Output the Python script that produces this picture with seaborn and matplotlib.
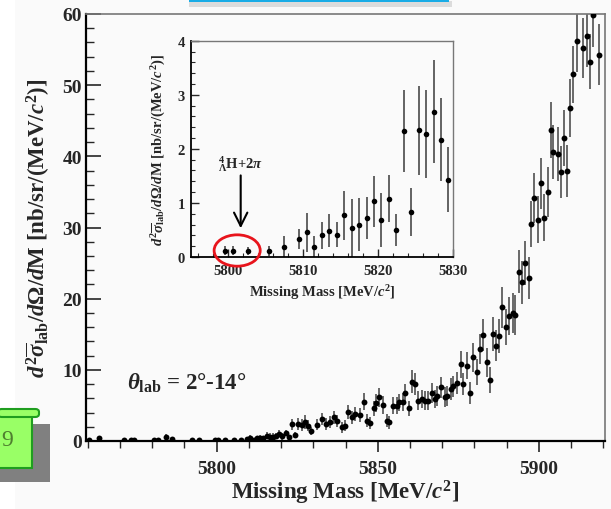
import numpy as np
import pandas as pd
import matplotlib
matplotlib.use("Agg")
import matplotlib.pyplot as plt
import seaborn as sns
from matplotlib.patches import Ellipse, Rectangle, FancyBboxPatch
from matplotlib.ticker import MultipleLocator

# ---------------- data ----------------
# low-mass region (main plot only)
low_mass = [5760.3, 5763.4, 5771.3, 5773.4, 5774.4, 5780.6, 5781.7, 5784.3, 5786.1, 5792.5, 5794.6]
low_xs = [0.10, 0.40, 0.20, 0.20, 0.15, 0.20, 0.15, 0.55, 0.30, 0.15, 0.15]
low_err = [0.10, 0.20, 0.15, 0.15, 0.15, 0.15, 0.15, 0.40, 0.20, 0.15, 0.15]

# threshold region (shown in inset and main plot)
ins_mass = [5799.6, 5800.6, 5802.6, 5805.5, 5807.5, 5809.5, 5810.5, 5811.5, 5812.5, 5813.5,
            5814.5, 5815.5, 5816.5, 5817.5, 5818.5, 5819.4, 5820.4, 5821.4, 5822.4, 5823.4,
            5824.4, 5825.4, 5826.4, 5827.4, 5828.4, 5829.3]
ins_xs = [0.12, 0.12, 0.11, 0.11, 0.18, 0.33, 0.46, 0.19, 0.40, 0.49,
          0.41, 0.77, 0.54, 0.60, 0.72, 1.03, 0.68, 1.08, 0.50, 2.33,
          0.83, 2.34, 2.28, 2.69, 2.17, 1.43]
ins_err = [0.08, 0.09, 0.08, 0.09, 0.20, 0.19, 0.36, 0.19, 0.25, 0.31,
           0.23, 0.45, 0.54, 0.49, 0.39, 0.47, 0.50, 0.44, 0.29, 0.76,
           0.44, 0.83, 0.81, 0.96, 0.77, 0.60]

# higher-mass region (main plot only)
high_mass = [5831.1, 5832.6, 5833.9, 5835.2, 5836.4, 5837.5, 5838.8, 5839.8, 5840.9, 5841.9,
             5842.9, 5844.5, 5845.7, 5846.6, 5847.6, 5848.9, 5849.5, 5850.5, 5851.6, 5852.8,
             5853.6, 5854.7, 5855.9, 5856.7, 5857.8, 5858.6, 5859.6, 5860.6, 5861.6, 5862.6,
             5863.7, 5864.7, 5865.7, 5866.8, 5867.8, 5868.5, 5869.6, 5870.9, 5871.6, 5872.7,
             5873.5, 5874.5, 5875.8, 5876.6, 5877.6, 5878.7, 5879.7, 5880.7, 5881.8, 5882.6,
             5883.9, 5884.7, 5885.7, 5886.7, 5887.7, 5888.5, 5889.8, 5890.6, 5891.9, 5892.6,
             5893.7, 5894.7, 5895.7, 5896.8, 5897.6, 5898.6, 5899.7, 5900.7, 5901.7, 5902.8,
             5903.7, 5904.5, 5905.8, 5906.7, 5907.8, 5908.8, 5909.7, 5910.7, 5911.8, 5913.8,
             5914.8, 5915.7, 5916.8, 5918.7]
high_xs = [2.29, 3.09, 2.39, 2.62, 3.32, 2.86, 1.92, 2.15, 4.12, 3.32,
           3.79, 3.70, 5.52, 2.86, 2.53, 4.59, 5.34, 6.13, 5.06, 2.86,
           2.62, 4.96, 4.96, 5.43, 5.43, 6.74, 4.59, 8.33, 8.00, 5.66,
           5.90, 5.66, 5.66, 6.74, 5.90, 6.36, 7.54, 6.13, 6.36, 7.30,
           7.68, 8.15, 10.80, 8.00, 10.58, 6.74, 11.75, 9.73, 12.92, 14.89,
           11.05, 8.61, 15.03, 13.39, 14.70, 18.78, 16.05, 17.60, 17.93, 17.74,
           23.80, 22.30, 25.00, 22.90, 30.48, 34.20, 31.10, 36.20, 31.40, 35.00,
           43.70, 40.60, 40.30, 37.80, 42.60, 37.96, 46.80, 51.50, 56.20, 55.20,
           56.90, 53.30, 59.80, 54.30]
high_err = [0.80, 0.90, 0.80, 0.85, 0.90, 0.85, 0.75, 0.80, 1.00, 0.95,
            1.00, 1.00, 1.20, 0.90, 0.90, 1.10, 1.20, 1.30, 1.20, 0.90,
            0.90, 1.20, 1.20, 1.20, 1.25, 1.30, 1.10, 1.60, 1.50, 1.30,
            1.30, 1.30, 1.30, 1.40, 1.30, 1.40, 1.50, 1.40, 1.40, 1.50,
            1.50, 1.60, 1.90, 1.60, 1.90, 1.50, 2.00, 1.80, 2.10, 2.30,
            2.00, 1.80, 2.40, 2.20, 2.40, 2.90, 2.50, 2.70, 2.80, 2.80,
            3.00, 3.00, 3.10, 3.00, 3.20, 3.50, 3.30, 3.60, 3.30, 3.50,
            3.90, 3.80, 3.80, 3.70, 3.90, 3.70, 4.10, 4.00, 4.30, 4.20,
            4.30, 3.90, 4.40, 4.30]

main_df = pd.DataFrame({
    "mass": low_mass + ins_mass + high_mass,
    "xs": low_xs + ins_xs + high_xs,
    "err": low_err + ins_err + high_err,
})
ins_df = pd.DataFrame({"mass": ins_mass, "xs": ins_xs, "err": ins_err})

# ---------------- style ----------------
sns.set_style("ticks")
plt.rcParams["font.family"] = ["Liberation Serif", "DejaVu Serif"]
plt.rcParams["font.weight"] = "bold"
plt.rcParams["mathtext.fontset"] = "custom"
plt.rcParams["mathtext.rm"] = "Liberation Serif:bold"
plt.rcParams["mathtext.it"] = "Liberation Serif:italic:bold"
plt.rcParams["mathtext.bf"] = "Liberation Serif:bold"

W, H = 611, 510
BG = "#fafafa"
fig = plt.figure(figsize=(W / 100, H / 100), dpi=100, facecolor=BG)


def rect_px(x0, y0, x1, y1):
    return (x0 / W, 1 - y1 / H), (x1 - x0) / W, (y1 - y0) / H


# ---------------- main axes ----------------
ax = fig.add_axes([86 / W, 1 - 442 / H, 519 / W, 427 / H])
ax.set_facecolor("none")
ax.errorbar(main_df["mass"], main_df["xs"], yerr=main_df["err"], fmt="none",
            ecolor="#505050", elinewidth=1.2, capsize=0, zorder=2)
sns.scatterplot(data=main_df, x="mass", y="xs", ax=ax, color="black", s=18,
                linewidth=0, zorder=3, legend=False)
ax.set_xlim(5759.5, 5920.5)
ax.set_ylim(0, 60)
ax.xaxis.set_major_locator(MultipleLocator(50))
ax.xaxis.set_minor_locator(MultipleLocator(10))
ax.yaxis.set_major_locator(MultipleLocator(10))
ax.yaxis.set_minor_locator(MultipleLocator(2))
ax.tick_params(axis="x", which="major", direction="out", length=8, width=1.2, pad=6, labelsize=14)
ax.tick_params(axis="x", which="minor", direction="out", length=5, width=1.0)
ax.tick_params(axis="y", which="major", direction="in", length=11, width=1.2, pad=3, labelsize=14)
ax.tick_params(axis="y", which="minor", direction="in", length=6, width=1.0)
for s in ["left", "bottom"]:
    ax.spines[s].set_color("black")
    ax.spines[s].set_linewidth(1.6)
for s in ["top", "right"]:
    ax.spines[s].set_color("#777777")
    ax.spines[s].set_linewidth(1.2)
ax.set_xlabel("Missing Mass [MeV/$c^2$]", fontsize=16.5, fontweight="bold")
ax.set_ylabel(r"$d^2\overline{\sigma}_{\rm lab}/d\Omega/d$M [nb/sr/(MeV/$c^2$)]",
              fontsize=16.5, fontweight="bold")
ax.xaxis.set_label_coords(0.5, -0.087)
ax.yaxis.set_label_coords(-0.066, 0.5)
ax.text(5772.1, 8.3, r"$\theta_{\rm lab}$ = 2°-14°", fontsize=16.5, fontweight="bold",
        ha="left", va="center")

# ---------------- inset axes ----------------
ins = fig.add_axes([190.7 / W, 1 - 258 / H, 262.3 / W, 216.3 / H])
ins.set_facecolor(BG)
ins.errorbar(ins_df["mass"], ins_df["xs"], yerr=ins_df["err"], fmt="none",
             ecolor="#3a3a3a", elinewidth=1.1, capsize=0, zorder=2)
sns.scatterplot(data=ins_df, x="mass", y="xs", ax=ins, color="black", s=16,
                linewidth=0, zorder=3, legend=False)
ins.set_xlim(5795, 5830)
ins.set_ylim(0, 4)
ins.xaxis.set_major_locator(MultipleLocator(10))
ins.xaxis.set_minor_locator(MultipleLocator(2))
ins.yaxis.set_major_locator(MultipleLocator(1))
ins.yaxis.set_minor_locator(MultipleLocator(0.2))
ins.tick_params(axis="both", which="major", direction="in", length=6, width=1.0, labelsize=10.5)
ins.tick_params(axis="both", which="minor", direction="in", length=3, width=0.8)
ins.tick_params(axis="x", which="major", pad=5)
ins.tick_params(axis="y", which="major", pad=4)
for s in ["left", "bottom"]:
    ins.spines[s].set_color("black")
    ins.spines[s].set_linewidth(1.3)
for s in ["top", "right"]:
    ins.spines[s].set_color("#777777")
    ins.spines[s].set_linewidth(1.0)
ins.set_xlabel("Missing Mass [MeV/$c^2$]", fontsize=10.5, fontweight="bold")
ins.set_ylabel(r"$d^2\overline{\sigma}_{\rm lab}/d\Omega/d$M [nb/sr/(MeV/$c^2$)]",
               fontsize=10.5, fontweight="bold")
ins.xaxis.set_label_coords(0.5, -0.116)
ins.yaxis.set_label_coords(-0.087, 0.5)

ins.annotate("", xy=(5801.67, 0.48), xytext=(5801.67, 1.56),
             arrowprops=dict(arrowstyle="->", lw=1.5, color="black", mutation_scale=24))
ins.text(5801.6, 1.73, r"${}^{4}_{\Lambda}$H+2$\pi$", fontsize=10.5, fontweight="bold",
         ha="center", va="center")
ins.add_patch(Ellipse((5801.2, 0.12), 6.15, 0.58, fill=False, ec="#e8141c", lw=2.0,
                      clip_on=False, zorder=6))

# ---------------- slide decorations ----------------
xy, w, h = rect_px(0, 0, 15, 510)
fig.add_artist(Rectangle(xy, w, h, transform=fig.transFigure, fc="white", ec="none", zorder=-5))
xy, w, h = rect_px(189, 2, 452, 8)
fig.add_artist(Rectangle(xy, w, h, transform=fig.transFigure, fc="#dcdcdc", ec="none", zorder=1))
xy, w, h = rect_px(189, 0, 449, 3)
fig.add_artist(Rectangle(xy, w, h, transform=fig.transFigure, fc="#19ace6", ec="none", zorder=2))
xy, w, h = rect_px(0, 425, 50, 483)
fig.add_artist(Rectangle(xy, w, h, transform=fig.transFigure, fc="#808080", ec="none", zorder=1))
xy, w, h = rect_px(-2, 416, 32, 469)
fig.add_artist(Rectangle(xy, w, h, transform=fig.transFigure, fc="#99ff66", ec="#1f9e1f", lw=1.5, zorder=2))
xy, w, h = rect_px(-2, 410, 39, 418)
fig.add_artist(FancyBboxPatch(xy, w, h, boxstyle="round,pad=0,rounding_size=0.006",
                              transform=fig.transFigure, fc="#99ff66", ec="#1f9e1f", lw=1.5, zorder=3))
fig.text(1.5 / W, 1 - 441 / H, "9", fontsize=17, fontweight="normal", color="#4f7f2f",
         ha="left", va="center", zorder=4)

fig.savefig("out.png", dpi=100, facecolor=BG)
